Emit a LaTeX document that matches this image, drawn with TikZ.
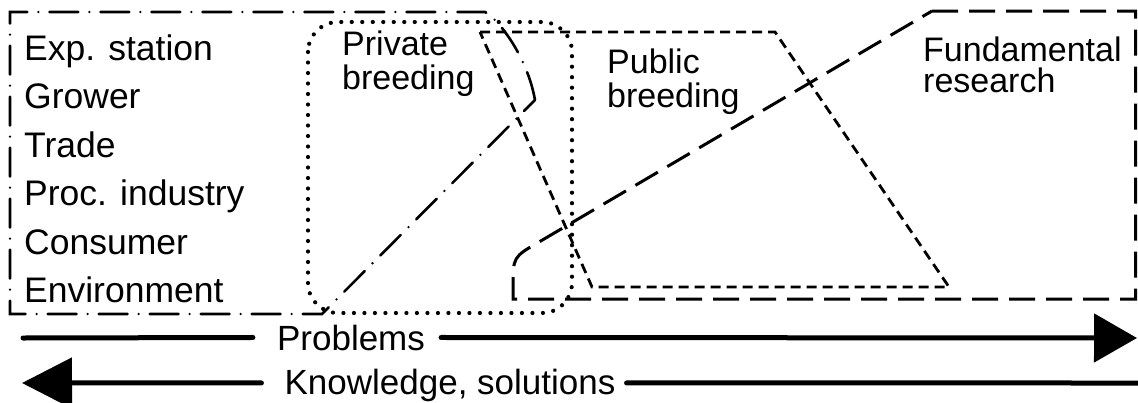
\documentclass[tikz,border=0pt]{standalone}
\usepackage{fontspec}
\setmainfont{Liberation Sans}
\usetikzlibrary{arrows.meta}
\begin{document}
\begin{tikzpicture}[x=1pt,y=-1pt,
  dashdot/.style={line width=2.6pt, dash pattern=on 29pt off 11pt on 0pt off 11pt, line cap=round},
  dotline/.style={line width=4.2pt, dash pattern=on 0pt off 10.5pt, line cap=round},
  shortdash/.style={line width=2.8pt, dash pattern=on 10pt off 6pt},
  longdash/.style={line width=3pt, dash pattern=on 26pt off 11pt},
  flow/.style={line width=5pt, line cap=round},
  listtext/.style={font=\fontsize{35.5}{48.4}\selectfont, align=left, inner sep=0pt, anchor=north west},
  areatext/.style={font=\fontsize{34}{34}\selectfont, align=left, inner sep=0pt, anchor=north west},
  flowtext/.style={font=\fontsize{35}{40}\selectfont, inner sep=0pt, anchor=base}]
\useasboundingbox (0,0) rectangle (1138,402);

% stakeholder region (dash-dot)
\draw[dashdot] (535,100) .. controls (527,55) and (497,18) .. (485,12) -- (10,12) -- (10,314) -- (322,314) -- cycle;
% private breeding (dotted)
\draw[dotline, rounded corners=30pt] (308,22) rectangle (572,313);
% public breeding (short dashes)
\draw[shortdash] (480,32) -- (775,32) -- (949,287) -- (592,287) -- cycle;
% fundamental research (long dashes)
\draw[longdash] (932,11) -- (1135.5,11) -- (1135.5,299) -- (513,299) -- (513,287) .. controls (513,257) .. (539,242) -- cycle;

% texts
\node[listtext] (list) at (24,34.5) {Exp. station\\Grower\\Trade\\Proc. industry\\Consumer\\Environment};
\node[areatext] (priv) at (342,30.5) {Private\\breeding};
\node[areatext] (pub) at (607,48.5) {Public\\breeding};
\node[areatext, font=\fontsize{34}{31}\selectfont] (fund) at (923,37) {Fundamental\\research};

% flows
\coordinate (pA) at (23,338);
\coordinate (pB) at (1137,338);
\coordinate (kA) at (22,383);
\coordinate (kB) at (1138,383);
\node[flowtext] (prob) at (351,350) {Problems};
\node[flowtext] (know) at (450,394) {Knowledge, solutions};
\draw[flow] (pA) -- ([xshift=-24pt]prob.west);
\draw[flow, -{Triangle[length=43pt,width=48pt]}] ([xshift=16pt]prob.east) -- (pB);
\draw[flow] ([xshift=11pt,yshift=2pt]know.east) -- (kB);
\draw[flow, -{Triangle[length=50pt,width=50pt]}] ([xshift=-23pt,yshift=2pt]know.west) -- (kA);
\end{tikzpicture}
\end{document}
